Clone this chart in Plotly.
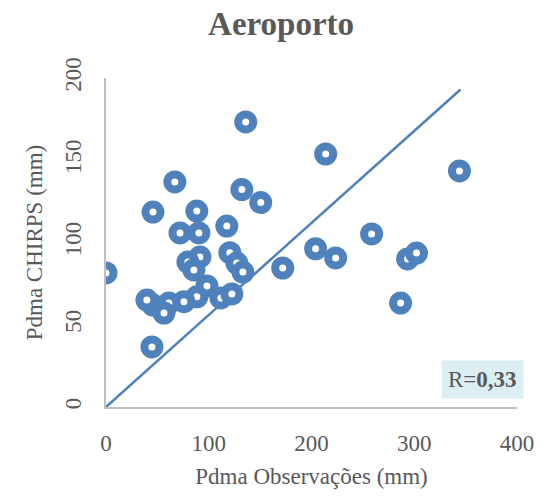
import plotly.graph_objects as go

# Monthly precipitation: station observations vs CHIRPS estimates (mm)
obs_mm = [0, 136, 213.8, 344, 67, 132.2, 150.6, 45.7, 88.4, 117.6,
          72, 90.4, 258.5, 204, 223.5, 293.5, 302.2, 286.7, 172, 120.5,
          127.3, 133.2, 91.4, 79.7, 85.5, 98.2, 88.4, 75.8, 61.2, 45.7,
          56.4, 39.8, 111.8, 122.5, 44.7]
chirps_mm = [81.5, 173.3, 153.8, 143.5, 136.8, 132.2, 124.3, 118.5, 119.1, 110,
             105.8, 105.8, 105.2, 96.2, 90.6, 90, 93.6, 63.2, 84.5, 93.8,
             87.5, 82, 91.2, 88.1, 83.3, 73.6, 67, 64, 63.2, 62,
             57.1, 65, 66.3, 68.7, 36.5]

# Reference line end points
line_x = [0, 345]
line_y = [0, 193]

r_text = "0,33"
x_ticks = [0, 100, 200, 300, 400]
y_ticks = [0, 50, 100, 150, 200]

blue = "#4F81BD"
grey_text = "#595959"
axis_grey = "#BFBFBF"
serif = "Liberation Serif"

fig = go.Figure()
fig.add_trace(go.Scatter(
    x=line_x, y=line_y, mode="lines",
    line=dict(color=blue, width=2.5), hoverinfo="skip", showlegend=False,
))
fig.add_trace(go.Scatter(
    x=obs_mm, y=chirps_mm, mode="markers",
    marker=dict(size=15, color="white", line=dict(color=blue, width=8)),
    showlegend=False,
))

fig.update_layout(
    width=548, height=497,
    margin=dict(l=106, r=31, t=78, b=90),
    paper_bgcolor="white", plot_bgcolor="white",
    font=dict(family=serif, color=grey_text, size=23),
    title=dict(text="<b>Aeroporto</b>",
               x=0.513, xanchor="center", y=0.952, yanchor="middle",
               font=dict(family=serif, size=33, color=grey_text)),
    xaxis=dict(
        range=[0, 400], tickvals=x_ticks, showgrid=False, zeroline=False,
        showline=True, linecolor=axis_grey, linewidth=1.5,
        ticks="outside", ticklen=15, tickcolor="rgba(0,0,0,0)",
        tickfont=dict(size=23, color=grey_text),
        title=dict(text="Pdma Observações (mm)", standoff=13,
                   font=dict(size=23, color=grey_text)),
    ),
    yaxis=dict(
        range=[0, 200], tickvals=y_ticks, showgrid=False, zeroline=False,
        showline=True, linecolor=axis_grey, linewidth=1.5,
        ticks="outside", ticklen=14, tickcolor="rgba(0,0,0,0)",
        tickangle=-90,
        tickfont=dict(size=23, color=grey_text),
        title=dict(text="Pdma CHIRPS (mm)", standoff=12,
                   font=dict(size=23, color=grey_text)),
    ),
    annotations=[dict(
        text="R=<b>" + r_text + "</b>", xref="paper", yref="paper",
        x=0.915, y=0.083, xanchor="center", yanchor="middle", showarrow=False,
        bgcolor="#DAEEF3", borderpad=6,
        font=dict(family=serif, size=23, color=grey_text),
    )],
)

fig.write_html("out.html")
